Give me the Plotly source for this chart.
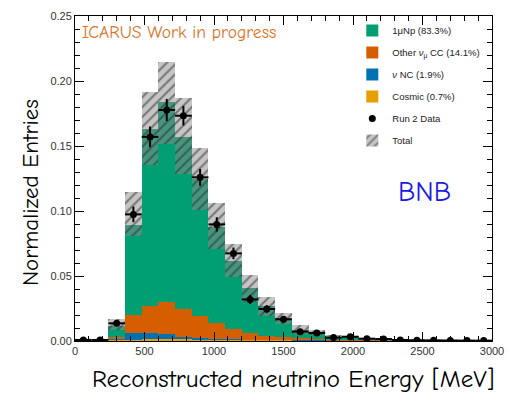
import plotly.graph_objects as go

# ---- data (25 bins of 120 MeV, 0-3000 MeV) ----
bin_width = 120
bin_centers = [60 + 120 * i for i in range(25)]

cosmic = [0, 0, 0.0002, 0.0005, 0.0008, 0.0012, 0.0010, 0.0006, 0.0004, 0.0003,
          0.0002, 0.0001, 0.0001, 0, 0, 0, 0, 0, 0, 0, 0, 0, 0, 0, 0]
nu_nc = [0, 0, 0.0006, 0.0053, 0.0050, 0.0042, 0.0023, 0.0014, 0.0009, 0.0007,
         0.0005, 0.0004, 0.0002, 0.0001, 0.0001, 0, 0, 0, 0, 0, 0, 0, 0, 0, 0]
other_cc = [0, 0, 0.0022, 0.0142, 0.0212, 0.0243, 0.0217, 0.0170, 0.0123, 0.0085,
            0.0053, 0.0033, 0.0027, 0.0019, 0.0012, 0.0007, 0.0005, 0.0003, 0.0001,
            0, 0, 0, 0, 0, 0]
one_mu_np = [0, 0, 0.0085, 0.0690, 0.1360, 0.1543, 0.1320, 0.1060, 0.0744, 0.0520,
             0.0350, 0.0232, 0.0145, 0.0068, 0.0058, 0.0027, 0.0025, 0.0012, 0.0006,
             0.0004, 0.0002, 0.0001, 0.0001, 0.0001, 0]

band_lo = [0, 0, 0.0085, 0.0808, 0.1354, 0.1513, 0.1285, 0.1008, 0.0708, 0.0490,
           0.0300, 0.0190, 0.0130, 0.0055, 0.0050, 0.0025, 0.0020, 0.0008, 0.0003,
           0.0002, 0, 0, 0, 0, 0]
band_hi = [0, 0, 0.0167, 0.1149, 0.1913, 0.2144, 0.1867, 0.1487, 0.1059, 0.0748,
           0.0505, 0.0336, 0.0218, 0.0120, 0.0085, 0.0046, 0.0040, 0.0025, 0.0012,
           0.0008, 0.0004, 0.0003, 0.0002, 0.0002, 0.0001]

data_y = [0.0008, 0.0008, 0.0136, 0.0974, 0.1570, 0.1777, 0.1733, 0.1259, 0.0897,
          0.0674, 0.0320, 0.0246, 0.0167, 0.0072, 0.0062, 0.0026, 0.0033, 0.0018,
          0.0015, 0.0008, 0.0006, 0.0005, 0.0004, 0.0003, 0.0003]
data_err = [0.0005, 0.0005, 0.0020, 0.0060, 0.0080, 0.0085, 0.0075, 0.0065, 0.0055,
            0.0045, 0.0035, 0.0030, 0.0025, 0.0018, 0.0015, 0.0010, 0.0010, 0.0008,
            0.0008, 0.0005, 0.0005, 0.0005, 0.0005, 0.0005, 0.0005]

labels = ["1\u03bcNp (83.3%)", "Other <i>\u03bd</i><sub>\u03bc</sub> CC (14.1%)",
          "<i>\u03bd</i> NC (1.9%)", "Cosmic (0.7%)", "Run 2 Data", "Total"]
colors = ["#009E73", "#D55E00", "#0072B2", "#E69F00"]

# stacked bases (bottom: cosmic, nc, other, 1muNp)
base_nc = [c for c in cosmic]
base_other = [c + n for c, n in zip(cosmic, nu_nc)]
base_np = [c + n + o for c, n, o in zip(cosmic, nu_nc, other_cc)]
band_h = [h - l for l, h in zip(band_lo, band_hi)]

fig = go.Figure()
comp = [(one_mu_np, base_np, 0), (other_cc, base_other, 1), (nu_nc, base_nc, 2),
        (cosmic, [0] * 25, 3)]
for vals, base, k in comp:
    fig.add_trace(go.Bar(x=bin_centers, y=vals, base=base, width=bin_width,
                         marker=dict(color=colors[k], line=dict(width=0)),
                         name=labels[k], legendrank=k + 1, legendgroup="g%d" % k))

fig.add_trace(go.Bar(x=bin_centers, y=band_h, base=band_lo, width=bin_width,
                     marker=dict(color="rgba(140,140,140,0.5)", line=dict(width=0),
                                 pattern=dict(shape="/", fgcolor="#2a2a2a", size=7,
                                              solidity=0.3, fillmode="overlay")),
                     name=labels[5], legendrank=6, legendgroup="g5"))

fig.add_trace(go.Scatter(x=bin_centers, y=data_y, mode="markers",
                         marker=dict(color="black", size=7, symbol="circle"),
                         error_x=dict(type="constant", value=bin_width / 2, color="black",
                                      thickness=2, width=0),
                         error_y=dict(type="data", array=data_err, color="black",
                                      thickness=2, width=0),
                         name=labels[4], legendrank=5, legendgroup="g4"))

tickfont = dict(family="Liberation Sans, Arial, sans-serif", size=11, color="#333")
fig.update_layout(
    width=508, height=394,
    margin=dict(l=75, r=16, t=16, b=53, autoexpand=False),
    paper_bgcolor="white", plot_bgcolor="white",
    barmode="overlay", bargap=0,
    showlegend=True,
    legend=dict(x=0.665, y=1.0, xanchor="left", yanchor="top",
                bgcolor="rgba(0,0,0,0)", traceorder="grouped",
                font=dict(family="Liberation Sans, Arial, sans-serif", size=9.5, color="#222"),
                itemwidth=30, tracegroupgap=3),
    xaxis=dict(range=[0, 3000], dtick=500, tick0=0, ticks="inside", ticklen=9,
               tickcolor="black", showline=True, linecolor="black", linewidth=1,
               mirror="ticks", showgrid=False, zeroline=False, tickfont=tickfont,
               automargin=False,
               minor=dict(dtick=100, ticks="inside", ticklen=5, tickcolor="black",
                          showgrid=False)),
    yaxis=dict(range=[0, 0.25], dtick=0.05, tick0=0, tickformat=".2f", ticks="inside",
               ticklen=9, tickcolor="black", showline=True, linecolor="black",
               linewidth=1, mirror="ticks", showgrid=False, zeroline=False,
               tickfont=tickfont, automargin=False,
               minor=dict(dtick=0.01, ticks="inside", ticklen=5, tickcolor="black",
                          showgrid=False)),
)

comic = "Comic Sans MS, Comic Neue, DejaVu Sans, sans-serif"
fig.add_annotation(text="Normalized Entries", xref="paper", yref="paper",
                   x=-0.108, y=0.458, textangle=-90, showarrow=False,
                   xanchor="center", yanchor="middle",
                   font=dict(family=comic, size=23, color="black"))
fig.add_annotation(text="Reconstructed neutrino Energy [MeV]", xref="paper", yref="paper",
                   x=0.036, y=-0.114, showarrow=False, xanchor="left", yanchor="middle",
                   font=dict(family=comic, size=25, color="black"))
fig.add_annotation(text="ICARUS Work in progress", xref="paper", yref="paper",
                   x=0.012, y=0.951, showarrow=False, xanchor="left", yanchor="middle",
                   font=dict(family=comic, size=17.5, color="#D9731F"))
fig.add_annotation(text="BNB", xref="paper", yref="paper",
                   x=0.839, y=0.459, showarrow=False, xanchor="center", yanchor="middle",
                   font=dict(family=comic, size=28, color="#1A1AE6"))

fig.write_html("out.html")
